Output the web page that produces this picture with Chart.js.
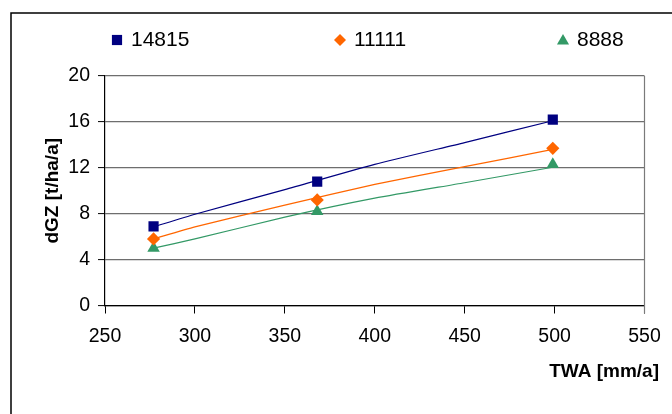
<!DOCTYPE html>
<html>
<head>
<meta charset="utf-8">
<script src="https://cdn.jsdelivr.net/npm/chart.js@4"></script>
<style>
html,body{margin:0;padding:0;background:#fff;}
#wrap{width:672px;height:414px;position:relative;}
</style>
</head>
<body>
<div id="wrap"><canvas id="c" width="672" height="414"></canvas></div>
<script>
// ---- data ----
const seriesNames = ['14815', '11111', '8888'];
const twaPoints = [277, 368, 499];
const dgz14815 = [6.9, 10.8, 16.2];
const dgz11111 = [5.8, 9.2, 13.7];
const dgz8888 = [5.0, 8.2, 12.3];
// trend lines
const trendX = [277, 300, 350, 400, 450, 499];
const trend14815 = [6.85, 7.95, 10.1, 12.3, 14.2, 16.1];
const trend11111 = [5.8, 6.85, 8.75, 10.55, 12.1, 13.6];
const trend8888 = [5.0, 5.8, 7.7, 9.35, 10.7, 12.05];
const xTicks = [250, 300, 350, 400, 450, 500, 550];
const yTicks = [0, 4, 8, 12, 16, 20];
const xTitle = 'TWA [mm/a]';
const yTitle = 'dGZ [t/ha/a]';

const colors = ['#000080', '#FF6600', '#339966'];
const styles = ['rect', 'rectRot', 'triangle'];
const radii = [7.2, 6.6, 7.2];
const FONT = "'Liberation Sans', Arial, sans-serif";

function pts(xs, ys){ return xs.map((x,i)=>({x:x, y:ys[i]})); }

const markerSets = [dgz14815, dgz11111, dgz8888];
const trendSets = [trend14815, trend11111, trend8888];

const datasets = [];
trendSets.forEach((t,i)=>{
  datasets.push({
    label: seriesNames[i] + ' trend',
    data: pts(trendX, t),
    showLine: true,
    borderColor: colors[i],
    borderWidth: 1.2,
    pointRadius: 0,
    tension: 0.2,
    order: 2
  });
});
markerSets.forEach((m,i)=>{
  datasets.push({
    label: seriesNames[i],
    data: pts(twaPoints, m),
    showLine: false,
    pointStyle: styles[i],
    pointRadius: radii[i],
    pointHoverRadius: radii[i],
    backgroundColor: colors[i],
    borderColor: colors[i],
    borderWidth: 0,
    order: 1
  });
});

const decor = {
  id: 'decor',
  beforeDraw(chart){
    const ctx = chart.ctx;
    ctx.save();
    ctx.fillStyle = '#fff';
    ctx.fillRect(0,0,chart.width,chart.height);
    ctx.strokeStyle = '#000';
    ctx.lineWidth = 1.5;
    ctx.beginPath();
    ctx.moveTo(11, chart.height);
    ctx.lineTo(11, 13);
    ctx.lineTo(chart.width, 13);
    ctx.stroke();
    ctx.restore();
  },
  beforeDatasetsDraw(chart){
    const ctx = chart.ctx, a = chart.chartArea;
    ctx.save();
    ctx.strokeStyle = '#7a7a7a';
    ctx.lineWidth = 1.2;
    ctx.beginPath();
    ctx.moveTo(a.right, a.top);
    ctx.lineTo(a.right, a.bottom + 8);
    ctx.stroke();
    ctx.restore();
  },
  afterDraw(chart){
    const ctx = chart.ctx;
    ctx.save();
    const legY = 40;
    const startX = 117, step = 223;
    const legR = [7.2, 6, 7];
    seriesNames.forEach((name,i)=>{
      const x = startX + i*step;
      ctx.fillStyle = colors[i];
      ctx.strokeStyle = colors[i];
      Chart.helpers.drawPoint(ctx, {pointStyle: styles[i], radius: legR[i], rotation: 0, borderWidth: 0}, x, legY + (i===2?1:0));
      ctx.fillStyle = '#000';
      ctx.font = '21px ' + FONT;
      ctx.textBaseline = 'alphabetic';
      ctx.textAlign = 'left';
      ctx.fillText(name, x + 14, 45.5);
    });
    ctx.font = 'bold 19px ' + FONT;
    ctx.textAlign = 'right';
    ctx.textBaseline = 'middle';
    ctx.fillStyle = '#000';
    ctx.fillText(xTitle, 659, 372);
    ctx.restore();
  }
};

new Chart(document.getElementById('c'), {
  type: 'scatter',
  data: { datasets },
  options: {
    responsive: false,
    animation: false,
    devicePixelRatio: 1,
    layout: { padding: { left: 12, right: 27.5, top: 76, bottom: 0 } },
    plugins: { legend: { display: false }, tooltip: { enabled: false } },
    scales: {
      x: {
        type: 'linear',
        min: 250, max: 550,
        afterBuildTicks(scale){ scale.ticks = xTicks.map(v=>({value:v})); },
        afterFit(scale){ scale.height = 414 - 305.5; },
        ticks: { color: '#000', font: { family: FONT, size: 19.5 }, padding: 11, maxRotation: 0 },
        grid: { drawOnChartArea: false, drawTicks: true, tickLength: 8, tickColor: '#000', tickWidth: 1 },
        border: { display: true, color: '#000', width: 1.2 }
      },
      y: {
        type: 'linear',
        min: 0, max: 20,
        afterBuildTicks(scale){ scale.ticks = yTicks.map(v=>({value:v})); },
        afterFit(scale){ scale.width = 105 - 12; },
        ticks: { color: '#000', font: { family: FONT, size: 19.5 }, padding: 8 },
        grid: { color: '#6e6e6e', lineWidth: 1.2, drawTicks: true, tickLength: 7, tickColor: '#000', tickWidth: 1 },
        border: { display: true, color: '#000', width: 1.2 },
        title: { display: true, text: yTitle, color: '#000', font: { family: FONT, size: 19, weight: 'bold' }, padding: { top: 29, bottom: 0 } }
      }
    }
  },
  plugins: [decor]
});
</script>
</body>
</html>
